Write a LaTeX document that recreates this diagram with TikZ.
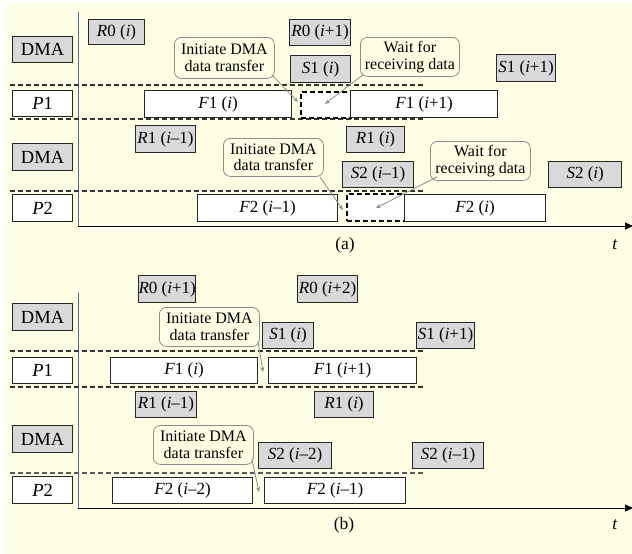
\documentclass[tikz,border=0pt]{standalone}
\usepackage{fontspec}
\setmainfont{Liberation Serif}
\usetikzlibrary{arrows.meta}
\definecolor{paper}{HTML}{FFFFE6}
\definecolor{boxgray}{HTML}{D9D9D9}
\definecolor{axisblue}{HTML}{4F6E9C}
\definecolor{notegray}{HTML}{8C8C8C}
\tikzset{
  cell/.style={draw=black!85, line width=1.1pt, anchor=north west, inner sep=0pt,
    font=\fontsize{17}{19}\selectfont},
  dmabox/.style={cell, fill=boxgray},
  procbox/.style={cell, fill=white},
  idlebox/.style={draw=black, line width=1.6pt, dash pattern=on 5pt off 3pt,
    fill=white, anchor=north west, inner sep=0pt},
  rowlabel/.style={cell, font=\fontsize{18.5}{20}\selectfont},
  note/.style={draw=notegray, line width=0.8pt, rounded corners=7pt, fill=paper,
    anchor=north west, inner sep=0pt, align=center,
    font=\fontsize{16}{16.5}\selectfont},
  notearrow/.style={draw=notegray, line width=0.8pt, -{Stealth[length=5pt,width=4pt]}},
  sep/.style={draw=black!80, line width=1.2pt, dash pattern=on 5pt off 3pt},
  vaxis/.style={draw=axisblue, line width=1pt},
  haxis/.style={draw=black, line width=1pt, -{Triangle[length=8pt,width=7pt]}},
  caption/.style={font=\fontsize{17.5}{19}\selectfont}
}
\newcommand{\tk}[1]{\textit{#1}}
\begin{document}
\begin{tikzpicture}[x=1pt,y=-1pt]
\useasboundingbox (0,0) rectangle (632,554);
\fill[white] (0,0) rectangle (632,554);
\fill[paper] (6,3) rectangle (632,554);

% ---------------- (a) ----------------
\coordinate (aTop) at (78,12);
\coordinate (aO) at (78,226);
\coordinate (aEnd) at (633,226);
\draw[vaxis] (aTop) -- (aO);
\draw[haxis] (aO) -- (aEnd);

\coordinate (aS1l) at (10,85);  \coordinate (aS1r) at (425,85);
\coordinate (aS2l) at (10,119); \coordinate (aS2r) at (425,119);
\coordinate (aS3l) at (10,191); \coordinate (aS3r) at (425,191);
\draw[sep] (aS1l) -- (aS1r);
\draw[sep] (aS2l) -- (aS2r);
\draw[sep] (aS3l) -- (aS3r);

\node[rowlabel, fill=boxgray, minimum width=60pt, minimum height=26pt] (aL1) at (12,36) {DMA};
\node[rowlabel, fill=white, minimum width=60pt, minimum height=26pt] (aL2) at (12,90) {\tk{P}1};
\node[rowlabel, fill=boxgray, minimum width=60pt, minimum height=27pt] (aL3) at (12,143) {DMA};
\node[rowlabel, fill=white, minimum width=60pt, minimum height=27pt] (aL4) at (12,194) {\tk{P}2};

\node[dmabox, minimum width=56pt, minimum height=25pt] (aR0i) at (88,19) {\tk{R}0 (\tk{i})};
\node[dmabox, minimum width=61pt, minimum height=26pt] (aR0n) at (289,19) {\tk{R}0 (\tk{i}+1)};
\node[dmabox, minimum width=60pt, minimum height=27pt] (aS1i) at (290,55) {\tk{S}1 (\tk{i})};
\node[dmabox, minimum width=59pt, minimum height=27pt] (aS1n) at (496,54) {\tk{S}1 (\tk{i}+1)};
\node[procbox, minimum width=147pt, minimum height=27pt] (aF1i) at (144,90) {\tk{F}1 (\tk{i})};
\node[idlebox, minimum width=50pt, minimum height=26pt] (aW1) at (300,91) {};
\node[procbox, minimum width=147pt, minimum height=27pt] (aF1n) at (350,90) {\tk{F}1 (\tk{i}+1)};

\node[dmabox, minimum width=60pt, minimum height=27pt] (aR1p) at (135,125) {\tk{R}1 (\tk{i}–1)};
\node[dmabox, minimum width=58pt, minimum height=26pt] (aR1i) at (346,126) {\tk{R}1 (\tk{i})};
\node[dmabox, minimum width=71pt, minimum height=26pt] (aS2p) at (342,161) {\tk{S}2 (\tk{i}–1)};
\node[dmabox, line width=1.3pt, minimum width=73pt, minimum height=26pt] (aS2i) at (548,161) {\tk{S}2 (\tk{i})};
\node[procbox, minimum width=140pt, minimum height=27pt] (aF2p) at (197,194) {\tk{F}2 (\tk{i}–1)};
\node[idlebox, minimum width=58pt, minimum height=27pt] (aW2) at (346,193) {};
\node[procbox, minimum width=141pt, minimum height=27pt] (aF2i) at (404,194) {\tk{F}2 (\tk{i})};

\node[note, minimum width=100pt, minimum height=41pt] (aN1) at (174,37) {Initiate DMA\\data transfer};
\node[note, minimum width=99pt, minimum height=39pt] (aN2) at (360,37) {Wait for\\receiving data};
\node[note, minimum width=100pt, minimum height=38pt] (aN3) at (223,138) {Initiate DMA\\data transfer};
\node[note, minimum width=100pt, minimum height=39pt] (aN4) at (430,141) {Wait for\\receiving data};

\coordinate (aT1) at (298,102);
\coordinate (aT2) at (325,104);
\coordinate (aT3) at (343,210);
\coordinate (aT4) at (376,208);
\draw[notearrow] ([xshift=-3pt,yshift=4pt]aN1.south east) -- (aT1);
\draw[notearrow] ([xshift=3pt,yshift=2pt]aN2.south west) -- (aT2);
\draw[notearrow] ([xshift=-4pt,yshift=0pt]aN3.south east) -- (aT3);
\draw[notearrow] ([xshift=7pt,yshift=4pt]aN4.south west) -- (aT4);

\node[caption] (aCap) at (345,245) {(a)};
\node[caption] (aT) at (615,245) {\tk{t}};

% ---------------- (b) ----------------
\coordinate (bTop) at (78,293);
\coordinate (bO) at (78,508);
\coordinate (bEnd) at (633,508);
\draw[vaxis] (bTop) -- (bO);
\draw[haxis] (bO) -- (bEnd);

\coordinate (bS1l) at (10,351); \coordinate (bS1r) at (425,351);
\coordinate (bS2l) at (10,387); \coordinate (bS2r) at (425,387);
\coordinate (bS3l) at (10,473); \coordinate (bS3r) at (425,473);
\draw[sep] (bS1l) -- (bS1r);
\draw[sep] (bS2l) -- (bS2r);
\draw[sep, draw=black!65] (bS3l) -- (bS3r);

\node[rowlabel, fill=boxgray, minimum width=60pt, minimum height=27pt] (bL1) at (12,303) {DMA};
\node[rowlabel, fill=white, minimum width=60pt, minimum height=26pt] (bL2) at (12,357) {\tk{P}1};
\node[rowlabel, fill=boxgray, minimum width=60pt, minimum height=27pt] (bL3) at (12,425) {DMA};
\node[rowlabel, fill=white, minimum width=60pt, minimum height=27pt] (bL4) at (12,476) {\tk{P}2};

\node[dmabox, minimum width=57pt, minimum height=27pt] (bR0a) at (138,275) {\tk{R}0 (\tk{i}+1)};
\node[dmabox, minimum width=60pt, minimum height=27pt] (bR0b) at (297,275) {\tk{R}0 (\tk{i}+2)};
\node[dmabox, minimum width=51pt, minimum height=26pt] (bS1i) at (262,322) {\tk{S}1 (\tk{i})};
\node[dmabox, minimum width=58pt, minimum height=26pt] (bS1n) at (416,322) {\tk{S}1 (\tk{i}+1)};
\node[procbox, minimum width=147pt, minimum height=26pt] (bF1i) at (110,357) {\tk{F}1 (\tk{i})};
\node[procbox, minimum width=148pt, minimum height=26pt] (bF1n) at (268,357) {\tk{F}1 (\tk{i}+1)};

\node[dmabox, minimum width=61pt, minimum height=26pt] (bR1p) at (135,391) {\tk{R}1 (\tk{i}–1)};
\node[dmabox, minimum width=59pt, minimum height=26pt] (bR1i) at (314,391) {\tk{R}1 (\tk{i})};
\node[dmabox, minimum width=73pt, minimum height=26pt] (bS2a) at (258,442) {\tk{S}2 (\tk{i}–2)};
\node[dmabox, minimum width=71pt, minimum height=26pt] (bS2b) at (412,442) {\tk{S}2 (\tk{i}–1)};
\node[procbox, minimum width=140pt, minimum height=26pt] (bF2a) at (112,477) {\tk{F}2 (\tk{i}–2)};
\node[procbox, minimum width=141pt, minimum height=26pt] (bF2b) at (264,477) {\tk{F}2 (\tk{i}–1)};

\node[note, minimum width=100pt, minimum height=39pt] (bN1) at (159,307) {Initiate DMA\\data transfer};
\node[note, minimum width=100pt, minimum height=39pt] (bN2) at (153,425) {Initiate DMA\\data transfer};

\coordinate (bT1) at (263,372);
\coordinate (bT2) at (259,492);
\draw[notearrow] ([xshift=-2pt,yshift=6pt]bN1.south east) -- (bT1);
\draw[notearrow] ([xshift=-2pt,yshift=6pt]bN2.south east) -- (bT2);

\node[caption] (bCap) at (344,525) {(b)};
\node[caption] (bT) at (615,525) {\tk{t}};
\end{tikzpicture}
\end{document}
